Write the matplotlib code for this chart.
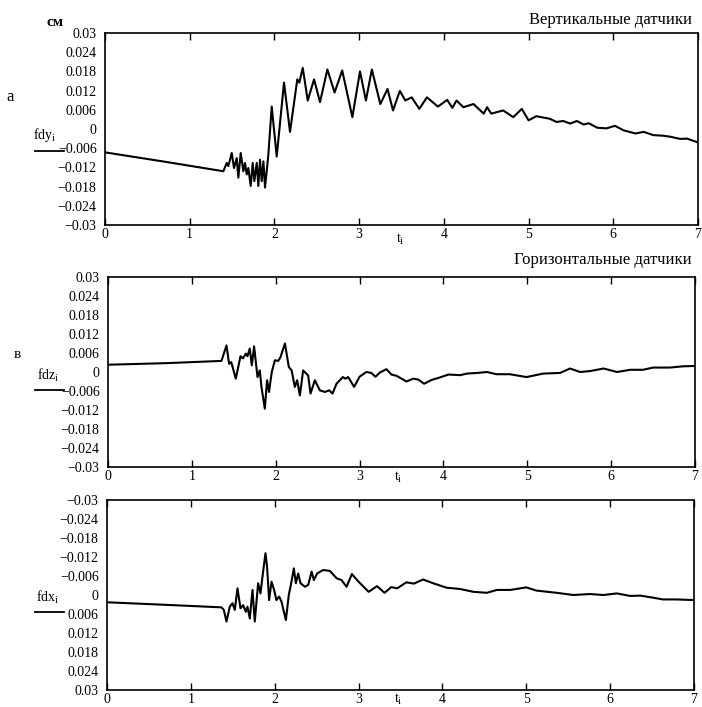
import matplotlib
matplotlib.use("Agg")
import matplotlib.pyplot as plt
from matplotlib.lines import Line2D

plt.rcParams['font.family'] = ['Liberation Serif', 'DejaVu Serif']
plt.rcParams['mathtext.fontset'] = 'custom'
plt.rcParams['mathtext.rm'] = 'Liberation Serif'
plt.rcParams['mathtext.it'] = 'Liberation Serif'

# ---------------- data ----------------
t1 = [0.00, 0.70, 1.397, 1.437, 1.456, 1.496, 1.523, 1.555, 1.574, 1.602, 1.633, 1.653, 1.673, 1.692,
      1.72, 1.744, 1.763, 1.791, 1.81, 1.83, 1.85, 1.87, 1.889, 1.928, 1.968, 2.027, 2.113, 2.184,
      2.27, 2.294, 2.334, 2.361, 2.393, 2.468, 2.538, 2.625, 2.71, 2.80, 2.92, 3.01, 3.08, 3.15,
      3.25, 3.335, 3.40, 3.48, 3.545, 3.62, 3.71, 3.80, 3.93, 4.04, 4.10, 4.15, 4.23, 4.35, 4.47,
      4.51, 4.56, 4.70, 4.82, 4.92, 5.00, 5.09, 5.25, 5.33, 5.41, 5.49, 5.57, 5.65, 5.71, 5.81,
      5.92, 6.02, 6.12, 6.26, 6.36, 6.47, 6.59, 6.67, 6.79, 6.87, 7.00]
fdy = [-0.0073, -0.0102, -0.0132, -0.0106, -0.0116, -0.0075, -0.0122, -0.0091, -0.0152, -0.0075,
       -0.0132, -0.0106, -0.0142, -0.0122, -0.0178, -0.0106, -0.0163, -0.0106, -0.0178, -0.0096,
       -0.0163, -0.0101, -0.0183, -0.0081, 0.0070, -0.0086, 0.0145, -0.0009, 0.0155, 0.0145, 0.0191,
       0.0145, 0.0089, 0.0155, 0.0084, 0.0186, 0.0114, 0.0183, 0.0037, 0.0180, 0.0089, 0.0186,
       0.0078, 0.0125, 0.0058, 0.0119, 0.0089, 0.0099, 0.0063, 0.0099, 0.0070, 0.0091, 0.0066,
       0.0089, 0.0068, 0.0078, 0.0048, 0.0068, 0.0048, 0.0058, 0.0037, 0.0063, 0.0027, 0.0040,
       0.0032, 0.0022, 0.0025, 0.0017, 0.0025, 0.0014, 0.0018, 0.0004, 0.0002, 0.0010, -0.0004,
       -0.0014, -0.0009, -0.0019, -0.0021, -0.0024, -0.0031, -0.0030, -0.0042]

t2 = [0.00, 0.70, 1.353, 1.413, 1.444, 1.47, 1.524, 1.58, 1.61, 1.643, 1.663, 1.69, 1.715, 1.742,
      1.783, 1.81, 1.83, 1.87, 1.897, 1.92, 1.953, 1.99, 2.03, 2.057, 2.11, 2.156, 2.19, 2.228,
      2.256, 2.288, 2.327, 2.387, 2.415, 2.467, 2.526, 2.586, 2.637, 2.678, 2.725, 2.765, 2.80,
      2.83, 2.864, 2.935, 3.00, 3.08, 3.14, 3.19, 3.24, 3.32, 3.38, 3.44, 3.50, 3.56, 3.64, 3.70,
      3.77, 3.86, 3.96, 4.06, 4.20, 4.28, 4.40, 4.52, 4.63, 4.79, 4.99, 5.19, 5.39, 5.51, 5.63,
      5.75, 5.91, 6.07, 6.23, 6.38, 6.50, 6.70, 6.86, 7.00]
fdz = [0.0023, 0.0028, 0.0035, 0.0084, 0.0026, 0.0031, -0.0021, 0.0050, 0.0043, 0.0058, 0.0050,
       0.0074, 0.0021, 0.0081, -0.0016, 0.0005, -0.0047, -0.0116, -0.0026, -0.0063, 0.0000, 0.0037,
       0.0035, 0.0047, 0.0090, 0.0016, 0.0005, -0.0047, -0.0026, -0.0074, 0.0005, -0.0011, -0.0068,
       -0.0026, -0.0058, -0.0063, -0.0058, -0.0068, -0.0037, -0.0026, -0.0016, -0.0021, -0.0016,
       -0.0047, -0.0015, 0.0000, -0.0003, -0.0015, -0.0002, 0.0009, -0.0008, -0.0012, -0.0021,
       -0.0030, -0.0021, -0.0024, -0.0037, -0.0025, -0.0017, -0.0008, -0.0010, -0.0005, -0.0003,
       0.0000, -0.0007, -0.0007, -0.0016, -0.0005, -0.0003, 0.0011, 0.0000, 0.0003, 0.0011, 0.0000,
       0.0007, 0.0007, 0.0014, 0.0014, 0.0018, 0.0019]

t3 = [0.00, 0.70, 1.365, 1.393, 1.425, 1.464, 1.496, 1.524, 1.556, 1.592, 1.623, 1.655, 1.675,
      1.703, 1.735, 1.762, 1.802, 1.83, 1.854, 1.89, 1.909, 1.933, 1.962, 1.993, 2.02, 2.053,
      2.081, 2.133, 2.168, 2.20, 2.228, 2.252, 2.28, 2.308, 2.36, 2.40, 2.44, 2.467, 2.506, 2.578,
      2.658, 2.738, 2.797, 2.857, 2.92, 3.00, 3.12, 3.22, 3.31, 3.39, 3.46, 3.57, 3.66, 3.77, 3.89,
      4.05, 4.21, 4.37, 4.53, 4.65, 4.81, 5.00, 5.12, 5.36, 5.56, 5.76, 5.92, 6.08, 6.24, 6.36,
      6.48, 6.63, 6.79, 7.00]
fdx = [0.0023, 0.0031, 0.0039, 0.0047, 0.0084, 0.0037, 0.0026, 0.0047, -0.0021, 0.0042, 0.0032,
       0.0053, 0.0037, 0.0074, -0.0016, 0.0084, -0.0037, -0.0005, -0.0058, -0.0132, -0.0089, 0.0016,
       -0.0042, -0.0016, 0.0016, 0.0005, 0.0021, 0.0079, 0.0000, -0.0042, -0.0084, -0.0037, -0.0068,
       -0.0037, -0.0026, -0.0032, -0.0074, -0.0047, -0.0068, -0.0079, -0.0076, -0.0053, -0.0047,
       -0.0026, -0.0066, -0.0042, -0.0010, -0.0028, -0.0007, -0.0025, -0.0021, -0.0040, -0.0036,
       -0.0049, -0.0037, -0.0023, -0.0019, -0.0010, -0.0007, -0.0016, -0.0016, -0.0024, -0.0014,
       -0.0007, 0.0000, -0.0003, 0.0000, -0.0005, 0.0003, 0.0002, 0.0007, 0.0014, 0.0014, 0.0016]

x_ticks = [0, 1, 2, 3, 4, 5, 6, 7]
x_labels = ['0', '1', '2', '3', '4', '5', '6', '7']
y_ticks = [0.03, 0.024, 0.018, 0.012, 0.006, 0.0, -0.006, -0.012, -0.018, -0.024, -0.03]
y_labels = ['0.03', '0.024', '0.018', '0.012', '0.006', '0',
            '\u22120.006', '\u22120.012', '\u22120.018', '\u22120.024', '\u22120.03']

titles = ['Вертикальные датчики', 'Горизонтальные датчики']
ylabels = ['fdy$_{\\rm i}$', 'fdz$_{\\rm i}$', 'fdx$_{\\rm i}$']
panel_letters = ['а', 'в']

# ---------------- figure ----------------
W, H = 702, 707
fig = plt.figure(figsize=(W / 100, H / 100), dpi=100)
fig.patch.set_facecolor('white')

def box(l, r, t, b):
    return [l / W, 1 - b / H, (r - l) / W, (b - t) / H]

rects = [box(105, 698, 33, 225), box(108, 695, 277, 467), box(107, 694, 500, 690)]
data = [(t1, fdy), (t2, fdz), (t3, fdx)]
for i, (rect, (tt, yy)) in enumerate(zip(rects, data)):
    ax = fig.add_axes(rect)
    ax.plot(tt, yy, color='black', lw=1.5)
    ax.set_xlim(0, 7)
    if i == 2:
        ax.set_ylim(0.03, -0.03)
    else:
        ax.set_ylim(-0.03, 0.03)
    ax.set_xticks(x_ticks)
    ax.set_xticklabels(x_labels)
    ax.set_yticks(y_ticks)
    ax.set_yticklabels(y_labels)
    ax.tick_params(axis='x', direction='in', top=True, bottom=True, length=5, width=1,
                   labelsize=10, pad=2.5)
    ax.tick_params(axis='y', length=0, labelsize=10, pad=6)
    for s in ax.spines.values():
        s.set_linewidth(1.2)

def fig_text(x, y, s, **kw):
    fig.text(x / W, 1 - y / H, s, **kw)

# t_i labels
for xi, yi in [(400, 239), (398, 477), (398, 699)]:
    fig_text(xi, yi, 't$_{\\rm i}$', fontsize=10, ha='center', va='center')

# titles
fig_text(692, 20, titles[0], fontsize=12, ha='right', va='center')
fig_text(692, 260, titles[1], fontsize=12, ha='right', va='center')

# unit label and panel letters
fig_text(55, 22, 'см', fontsize=11, ha='center', va='center', fontweight='bold')
fig_text(10, 97, panel_letters[0], fontsize=12, ha='center', va='center')
fig_text(17, 355, panel_letters[1], fontsize=11, ha='center', va='center')

# series labels with short legend line
for (lx, ly, liney), lab in zip([(45, 135, 151), (48, 375, 390), (48, 597, 612)], ylabels):
    fig_text(lx, ly, lab, fontsize=10, ha='center', va='center')
    fig.add_artist(Line2D([35 / W, 64 / W], [1 - liney / H, 1 - liney / H],
                          transform=fig.transFigure, color='black', lw=1.3))

fig.savefig('out.png', dpi=100, facecolor='white')
